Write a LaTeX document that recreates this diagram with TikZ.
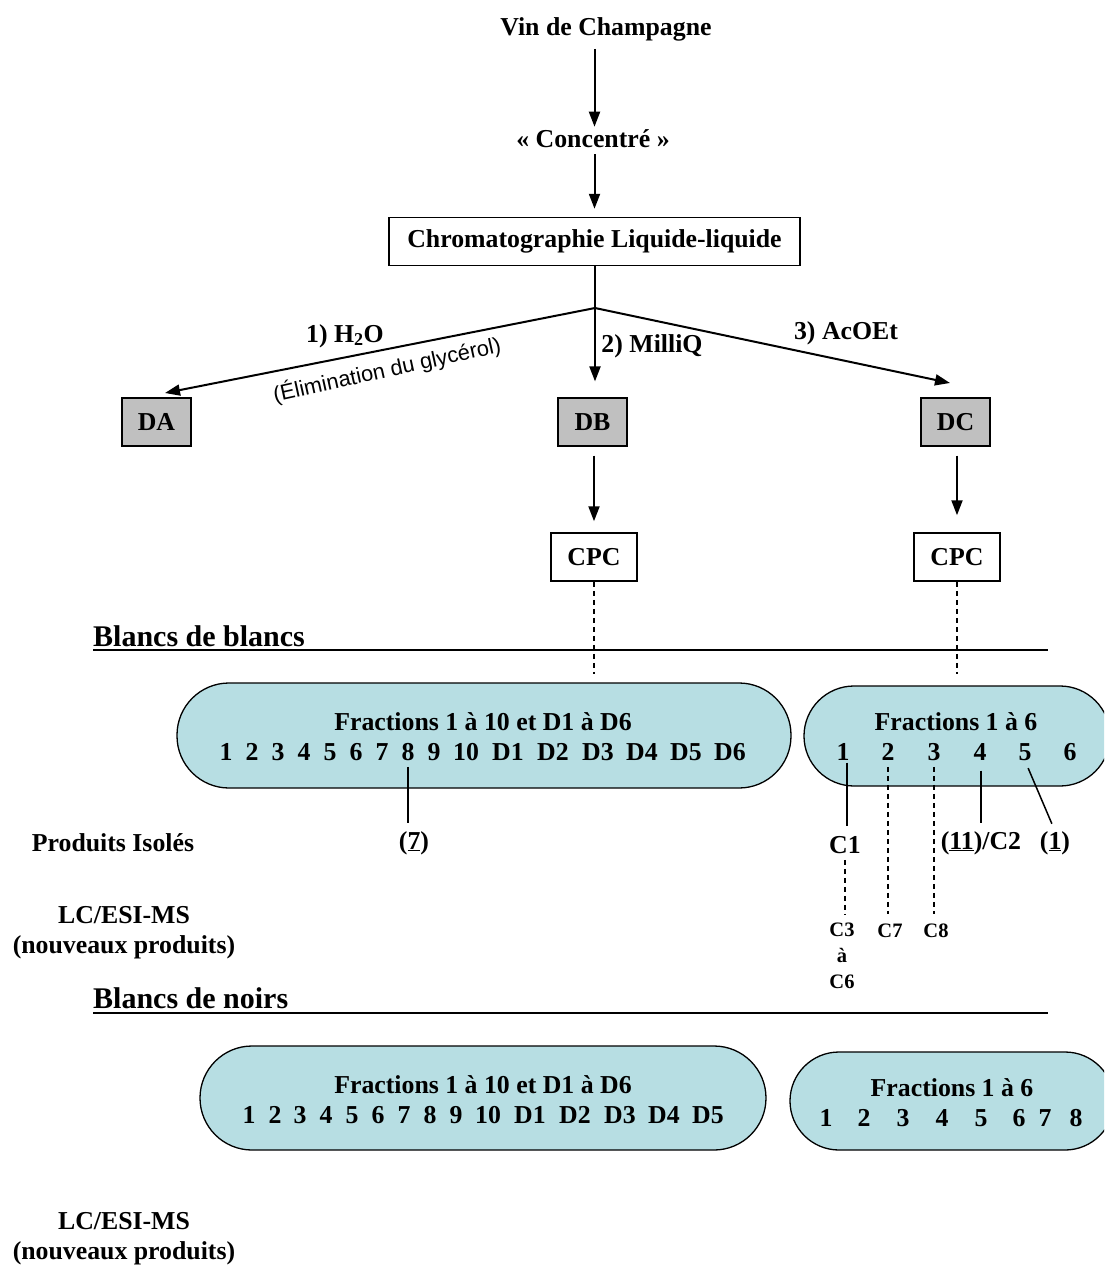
\documentclass[tikz,border=0pt]{standalone}
\usepackage{fontspec}
\setmainfont{Liberation Serif}
\newfontfamily\arialf{Liberation Sans}
\usetikzlibrary{arrows.meta}
\definecolor{boxgray}{RGB}{192,192,192}
\definecolor{cyanfill}{RGB}{183,222,227}
\begin{document}
\begin{tikzpicture}[x=1pt,y=-1pt,
  every node/.style={font=\fontsize{25.8}{30}\selectfont\bfseries, inner sep=0pt},
  arr/.style={line width=2pt, -{Triangle[length=15pt,width=11pt]}},
  graybox/.style={draw, line width=1.2pt, fill=boxgray, minimum width=69pt, minimum height=48pt},
  whitebox/.style={draw, line width=1.5pt, fill=white, minimum height=48pt},
  stadium/.style={draw, line width=1.3pt, fill=cyanfill},
  smalltxt/.style={font=\fontsize{20.5}{26}\selectfont\bfseries},
  conn/.style={line width=1.5pt},
  dconn/.style={line width=1.5pt, dash pattern=on 5pt off 4pt},
  rule/.style={line width=1.5pt}]
\path[use as bounding box, clip] (0,0) rectangle (1104,1269);

% top chain
\node (vin) at (606,29) {Vin de Champagne};
\node (conc) at (593,139) {« Concentré »};
\node[whitebox, minimum width=411pt] (chrom) at (594.5,241.5) {Chromatographie Liquide-liquide};
\draw[arr, shorten <=8pt, shorten >=3pt] (vin.south -| chrom) -- (conc.north -| chrom);
\draw[arr, shorten <=6pt, shorten >=8pt] (conc.south -| chrom) -- (chrom.north);

\coordinate (j) at (595,308);
\coordinate (aDA) at (165,393);
\coordinate (aDC) at (950,383);
\node[graybox] (DA) at (156.5,422) {DA};
\node[graybox] (DB) at (592.5,422) {DB};
\node[graybox] (DC) at (955.5,422) {DC};
\draw[line width=2pt] (chrom.south -| j) -- (j);
\draw[arr] (j) -- (aDA);
\draw[arr, shorten >=16pt] (j) -- (j |- DB.north);
\draw[arr] (j) -- (aDC);

\node (l1) at (345,336) {1) H\textsubscript{2}O};
\node[font=\arialf\fontsize{21.8}{24}\selectfont, rotate=12.5] (elim) at (387,370) {(Élimination du glycérol)};
\node (l2) at (652,346) {2) MilliQ};
\node (l3) at (846,333) {3) AcOEt};

% CPC
\node[whitebox, minimum width=86pt] (cpcB) at (594,557) {CPC};
\node[whitebox, minimum width=86pt] (cpcC) at (957,557) {CPC};
\draw[arr, shorten <=9pt, shorten >=11pt] (DB.south -| cpcB) -- (cpcB.north);
\draw[arr, shorten <=9pt, shorten >=17pt] (DC.south -| cpcC) -- (cpcC.north);

% Blancs de blancs
\node[anchor=west, font=\fontsize{30}{34}\selectfont\bfseries] (bdb) at (93,636) {Blancs de blancs};
\draw[rule] (93,650) -- (1048,650);

\node[stadium, minimum width=614pt, minimum height=105pt, rounded corners=52pt] (ellBB) at (484,735.5) {};
\node[stadium, minimum width=306pt, minimum height=100pt, rounded corners=50pt] (ellBC) at (957,736) {};
\draw[dconn, shorten >=8pt] (cpcB.south) -- (cpcB.south |- ellBB.north);
\draw[dconn, shorten >=11pt] (cpcC.south) -- (cpcC.south |- ellBC.north);

\node (tBB) at (483,722) {Fractions 1 à 10 et D1 à D6};
\foreach \t/\x [count=\i] in {1/226,2/252,3/278,4/304,5/330,6/356,7/382,8/408,9/434,10/466,D1/508,D2/553,D3/598,D4/642,D5/686,D6/730}
  \node (n\i) at (\x,752) {\t};
\node (tBC) at (956,722) {Fractions 1 à 6};
\foreach \x [count=\i] in {843,888,934,980,1025,1070}
  \node (r\i) at (\x,752) {\i};

% isolated products
\node (prod) at (113,843) {Produits Isolés};
\node (p7) at (414,843) {(\underline{7})};
\node (c1) at (845,845) {C1};
\node (c2) at (981,843) {(\underline{11})/C2};
\node (p1) at (1055,843) {(\underline{1})};
\draw[conn, shorten <=6pt, shorten >=8pt] (n8.south) -- (n8.south |- p7.north);
\draw[conn, shorten <=2pt, shorten >=10pt] (r1.south -| 847,0) -- (c1.north -| 847,0);
\draw[conn, shorten <=10pt, shorten >=8pt] (r4.south -| 981,0) -- (c2.north -| 981,0);
\draw[conn, shorten <=8pt, shorten >=8pt] (r5.south) -- (p1.north);

% LC/ESI-MS
\node[align=center] (lc1) at (124,933) {LC/ESI-MS\\(nouveaux produits)};
\node[smalltxt, align=center] (c3) at (842,956) {C3\\à\\C6};
\node[smalltxt] (c7) at (890,931) {C7};
\node[smalltxt] (c8) at (936,931) {C8};
\draw[dconn, shorten <=6pt, shorten >=8pt] (c1.south) -- (c1.south |- c3.north);
\draw[dconn, shorten <=6pt, shorten >=10pt] (r2.south -| 888,0) -- (c7.north -| 888,0);
\draw[dconn, shorten <=6pt, shorten >=10pt] (r3.south -| 934,0) -- (c8.north -| 934,0);

% Blancs de noirs
\node[anchor=west, font=\fontsize{30}{34}\selectfont\bfseries] (bdn) at (93,998) {Blancs de noirs};
\draw[rule] (93,1013) -- (1048,1013);

\node[stadium, minimum width=566pt, minimum height=104pt, rounded corners=52pt] (ellNB) at (483,1098) {};
\node[stadium, minimum width=324pt, minimum height=98pt, rounded corners=49pt] (ellNC) at (952,1101) {};
\node (tNB) at (483,1085) {Fractions 1 à 10 et D1 à D6};
\foreach \t/\x [count=\i] in {1/249,2/275,3/300,4/326,5/352,6/378,7/404,8/430,9/456,10/488,D1/530,D2/575,D3/620,D4/664,D5/708}
  \node (m\i) at (\x,1115) {\t};
\node (tNC) at (952,1088) {Fractions 1 à 6};
\foreach \x [count=\i] in {826,864,903,942,981,1019,1045,1076}
  \node (s\i) at (\x,1118) {\i};

\node[align=center] (lc2) at (124,1239) {LC/ESI-MS\\(nouveaux produits)};
\end{tikzpicture}
\end{document}
